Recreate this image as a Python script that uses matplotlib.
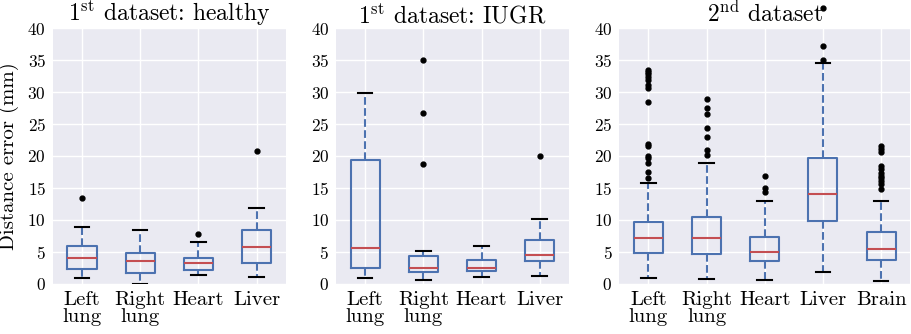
import matplotlib
matplotlib.use('Agg')
import matplotlib.pyplot as plt

# organ labels
organs_1 = ['Left\nlung', 'Right\nlung', 'Heart', 'Liver']
organs_2 = ['Left\nlung', 'Right\nlung', 'Heart', 'Liver', 'Brain']

# 1st dataset: healthy  (whislo, q1, median, q3, whishi, fliers)
healthy_lo = [1.0, 0.05, 1.35, 1.15]
healthy_q1 = [2.3, 1.7, 2.2, 3.2]
healthy_med = [4.1, 3.6, 3.2, 5.8]
healthy_q3 = [6.0, 4.8, 4.1, 8.4]
healthy_hi = [8.9, 8.4, 6.5, 11.9]
healthy_fliers = [[13.5], [], [7.8], [20.8]]

# 1st dataset: IUGR
iugr_lo = [0.85, 0.6, 1.15, 1.25]
iugr_q1 = [2.5, 1.8, 2.0, 3.65]
iugr_med = [5.6, 2.5, 2.5, 4.5]
iugr_q3 = [19.4, 4.4, 3.7, 6.8]
iugr_hi = [29.8, 5.2, 5.95, 10.2]
iugr_fliers = [[], [35.0, 26.7, 18.75], [], [20.05]]

# 2nd dataset
d2_lo = [1.0, 0.8, 0.6, 1.9, 0.5]
d2_q1 = [4.9, 4.7, 3.6, 9.8, 3.75]
d2_med = [7.2, 7.1, 5.05, 14.05, 5.4]
d2_q3 = [9.6, 10.5, 7.3, 19.7, 8.1]
d2_hi = [15.7, 18.9, 13.0, 34.6, 13.0]
d2_fliers = [
    [33.5, 33.2, 32.8, 32.3, 31.9, 31.1, 30.7, 28.4, 21.9, 21.6, 20.0, 19.7, 18.85, 17.5, 16.6],
    [28.9, 27.5, 26.5, 24.3, 22.9, 21.0, 20.2],
    [16.9, 15.05, 14.3],
    [43.1, 37.2, 35.0],
    [21.5, 21.1, 20.7, 18.5, 18.0, 17.3, 16.9, 16.5, 16.1, 15.6, 14.8],
]

plt.rcParams['font.family'] = 'serif'
plt.rcParams['font.serif'] = ['cmr10']
plt.rcParams['mathtext.fontset'] = 'cm'
plt.rcParams['axes.formatter.use_mathtext'] = True

blue = '#4C72B0'
red = '#C44E52'


def make_stats(lo, q1, med, q3, hi, fl):
    return [dict(whislo=a, q1=b, med=c, q3=d, whishi=e, fliers=f)
            for a, b, c, d, e, f in zip(lo, q1, med, q3, hi, fl)]


def draw(ax, stats, labels, title):
    ax.set_facecolor('#EAEAF2')
    ax.grid(True, color='white', linewidth=1.0)
    ax.set_axisbelow(True)
    for s in ax.spines.values():
        s.set_visible(False)
    art = ax.bxp(stats, widths=0.5, showfliers=True,
                 boxprops=dict(color=blue, linewidth=1.5),
                 whiskerprops=dict(color=blue, linewidth=1.5, linestyle='--'),
                 capprops=dict(color='black', linewidth=1.5),
                 medianprops=dict(color=red, linewidth=1.5),
                 flierprops=dict(marker='o', markerfacecolor='black',
                                 markeredgecolor='black', markersize=3.5))
    for f in art['fliers']:
        f.set_clip_on(False)
    ax.set_ylim(0, 40)
    ax.set_xlim(0.5, len(labels) + 0.5)
    ax.set_yticks(range(0, 41, 5))
    ax.set_xticks(range(1, len(labels) + 1))
    ax.set_xticklabels(labels, fontsize=15, linespacing=0.95)
    ax.tick_params(axis='y', labelsize=12.5, length=0, pad=5)
    ax.tick_params(axis='x', length=0, pad=5)
    ax.set_title(title, fontsize=17, pad=3)


fig, axes = plt.subplots(1, 3, figsize=(9.12, 3.34),
                         gridspec_kw=dict(width_ratios=[4, 4, 5]))
fig.subplots_adjust(left=0.058, right=0.998, top=0.916, bottom=0.150, wspace=0.2)

draw(axes[0], make_stats(healthy_lo, healthy_q1, healthy_med, healthy_q3, healthy_hi, healthy_fliers),
     organs_1, r'1$^{\mathrm{st}}$ dataset: healthy')
draw(axes[1], make_stats(iugr_lo, iugr_q1, iugr_med, iugr_q3, iugr_hi, iugr_fliers),
     organs_1, r'1$^{\mathrm{st}}$ dataset: IUGR')
draw(axes[2], make_stats(d2_lo, d2_q1, d2_med, d2_q3, d2_hi, d2_fliers),
     organs_2, r'2$^{\mathrm{nd}}$ dataset')
axes[0].set_ylabel('Distance error (mm)', fontsize=15, labelpad=6)

fig.savefig('out.png', dpi=100)
